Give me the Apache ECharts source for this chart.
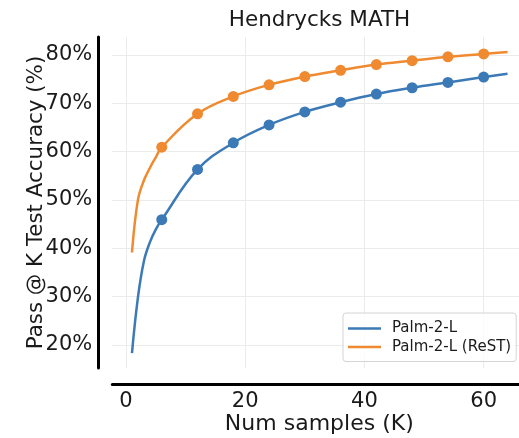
<!DOCTYPE html>
<html>
<head>
<meta charset="utf-8">
<script src="https://cdn.jsdelivr.net/npm/echarts@6/dist/echarts.min.js"></script>
<style>html,body{margin:0;padding:0;background:#fff}#c{width:519px;height:438px}</style>
</head>
<body>
<div id="c"></div>
<script>
const titleText = 'Hendrycks MATH';
const xName = 'Num samples (K)';
const yName = 'Pass @ K Test Accuracy (%)';
const seriesNames = ['Palm-2-L', 'Palm-2-L (ReST)'];
const kValues = [1, 2, 3, 4, 5, 6, 12, 18, 24, 30, 36, 42, 48, 54, 60, 64];
const palmBase = [18.3, 29.8, 37.3, 41.2, 43.9, 45.9, 56.3, 61.8, 65.5, 68.2, 70.2, 71.9, 73.2, 74.3, 75.4, 76.1];
const palmReST = [39.1, 50.0, 54.0, 56.6, 58.8, 60.9, 67.8, 71.4, 73.8, 75.5, 76.8, 78.0, 78.8, 79.6, 80.2, 80.6];
const markerK = [6, 12, 18, 24, 30, 36, 42, 48, 54, 60];
const xTicks = [0, 20, 40, 60];
const yTicks = [20, 30, 40, 50, 60, 70, 80];
const colors = ['#3b7ab6', '#ef8a30'];

const font = 'DejaVu Sans';
const toPairs = (vals) => kValues.map((k, i) => [k, vals[i]]);
const toMarkers = (vals) => kValues.map((k, i) => [k, vals[i]]).filter(p => markerK.includes(p[0]));

const chart = echarts.init(document.getElementById('c'), null, {renderer: 'canvas'});
const gridColor = '#ebebeb';
chart.setOption({
  animation: false,
  backgroundColor: '#ffffff',
  title: {
    text: titleText, left: 319.5, top: 9, textAlign: 'center', padding: 0,
    textStyle: {fontFamily: font, fontSize: 21.5, fontWeight: 'normal', color: '#1a1a1a'}
  },
  legend: {
    data: seriesNames.map(n => ({name: n, icon: 'rect'})),
    orient: 'vertical', left: 343, top: 313,
    itemWidth: 33, itemHeight: 2.5, itemGap: 3.5,
    padding: [8, 5, 7, 5],
    backgroundColor: 'rgba(255,255,255,0.8)',
    borderColor: '#d4d4d4', borderWidth: 1, borderRadius: 3,
    textStyle: {fontFamily: font, fontSize: 15, color: '#1a1a1a', padding: [0, 0, 0, 6]}
  },
  grid: {left: 112.3, top: 37, width: 414, height: 331, containLabel: false, outerBoundsMode: 'none'},
  xAxis: {
    type: 'value', min: -2.3, max: 67.15, offset: 16,
    name: xName, nameLocation: 'middle', nameGap: 29, nameMoveOverlap: false,
    nameTextStyle: {fontFamily: font, fontSize: 22, color: '#1a1a1a'},
    axisLine: {show: true, onZero: false, lineStyle: {color: '#000', width: 3}},
    axisTick: {show: false, customValues: xTicks},
    axisLabel: {customValues: xTicks, fontFamily: font, fontSize: 21, color: '#1a1a1a', margin: 7},
    splitLine: {show: true, lineStyle: {color: gridColor, width: 1}}
  },
  yAxis: {
    type: 'value', min: 15.2, max: 83.7, offset: 14,
    name: yName, nameLocation: 'middle', nameGap: 51, nameMoveOverlap: false,
    nameTextStyle: {fontFamily: font, fontSize: 21.4, color: '#1a1a1a'},
    axisLine: {show: true, onZero: false, lineStyle: {color: '#000', width: 3}},
    axisTick: {show: false, customValues: yTicks},
    axisLabel: {customValues: yTicks, formatter: v => v + '%', fontFamily: font, fontSize: 21, color: '#1a1a1a', margin: 6},
    splitLine: {show: true, lineStyle: {color: gridColor, width: 1}}
  },
  series: [
    {name: seriesNames[0], type: 'line', data: toPairs(palmBase), smooth: 0.4, showSymbol: false,
     lineStyle: {color: colors[0], width: 2.5}, itemStyle: {color: colors[0]}, z: 3},
    {name: seriesNames[1], type: 'line', data: toPairs(palmReST), smooth: 0.4, showSymbol: false,
     lineStyle: {color: colors[1], width: 2.5}, itemStyle: {color: colors[1]}, z: 3},
    {name: seriesNames[0] + ' pts', type: 'scatter', data: toMarkers(palmBase), symbolSize: 11,
     itemStyle: {color: colors[0], opacity: 1}, z: 4},
    {name: seriesNames[1] + ' pts', type: 'scatter', data: toMarkers(palmReST), symbolSize: 11,
     itemStyle: {color: colors[1], opacity: 1}, z: 4}
  ]
});
</script>
</body>
</html>
